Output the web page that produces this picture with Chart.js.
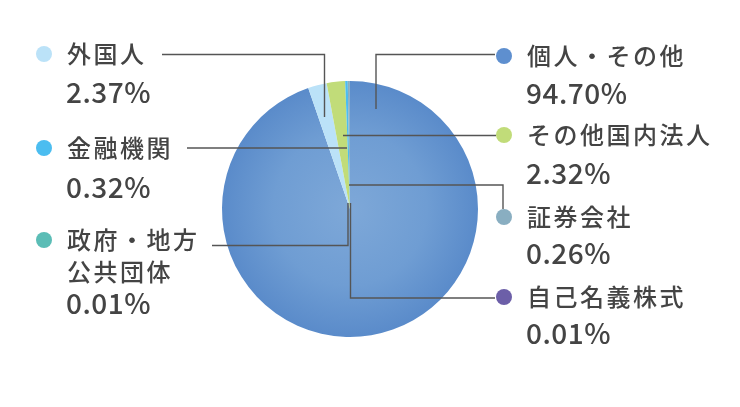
<!DOCTYPE html>
<html>
<head>
<meta charset="utf-8">
<script src="https://cdn.jsdelivr.net/npm/chart.js@4"></script>
<style>
  html, body { margin: 0; padding: 0; background: #fff; }
  #wrap { position: relative; width: 740px; height: 407px; }
</style>
</head>
<body>
<div id="wrap"><canvas id="shareChart" width="740" height="407"></canvas></div>
<script>
// 株主構成 (clockwise from 12 o'clock)
const categories = ['個人・その他', '外国人', 'その他国内法人', '金融機関', '証券会社', '政府・地方公共団体', '自己名義株式'];
const shares = [94.70, 2.37, 2.32, 0.32, 0.26, 0.01, 0.01];
const sliceColors = ['#5e8fcf', '#bbe2f8', '#c1dc79', '#4bbdf0', '#89aec1', '#5bbdb6', '#6c5fa8'];

// label layout: label lines (text), dot / text position
const labelLayout = [
    { i: 0, lines: ['個人・その他'], x: 504, y: 56, pctY: 93 },
    { i: 1, lines: ['外国人'], x: 44, y: 54, pctY: 92 },
    { i: 2, lines: ['その他国内法人'], x: 504, y: 135, pctY: 173 },
    { i: 3, lines: ['金融機関'], x: 44, y: 148, pctY: 187 },
    { i: 4, lines: ['証券会社'], x: 504, y: 217, pctY: 253 },
    { i: 5, lines: ['政府・地方', '公共団体'], x: 44, y: 240, pctY: 303 },
    { i: 6, lines: ['自己名義株式'], x: 504, y: 297, pctY: 333 }
];

// leader lines, as offsets from the pie centre
const leaders = [
    [[26, -100], [26, -154.5], [145, -154.5]],
    [[-25.5, -92], [-25.5, -154.5], [-188, -154.5]],
    [[-7, -73.5], [146, -73.5]],
    [[-3, -61], [-163, -61]],
    [[-1, -24], [153, -24], [153, 0]],
    [[-2, -6], [-2, 36.5], [-138, 36.5]],
    [[0.5, -6], [0.5, 89], [145, 89]]
];

const FONT = '"Noto Sans CJK JP", "Noto Sans", sans-serif';

const labelPlugin = {
    id: 'labelPlugin',
    afterDraw(chart) {
        const ctx = chart.ctx;
        const arc = chart.getDatasetMeta(0).data[0];
        const cx = arc.x, cy = arc.y;

        ctx.save();
        ctx.strokeStyle = '#555';
        ctx.lineWidth = 1.4;
        leaders.forEach(pts => {
            ctx.beginPath();
            pts.forEach((p, k) => {
                const px = cx + p[0], py = cy + p[1];
                if (k === 0) ctx.moveTo(px, py); else ctx.lineTo(px, py);
            });
            ctx.stroke();
        });

        ctx.textBaseline = 'middle';
        labelLayout.forEach(l => {
            ctx.fillStyle = sliceColors[l.i];
            ctx.beginPath();
            ctx.arc(l.x, l.y, 8, 0, Math.PI * 2);
            ctx.fill();

            ctx.fillStyle = '#444';
            ctx.font = '500 24px ' + FONT;
            ctx.letterSpacing = '2.5px';
            l.lines.forEach((t, k) => {
                ctx.fillText(t, l.x + 23, l.y + k * 32);
            });
            ctx.font = '500 28px ' + FONT;
            ctx.letterSpacing = '0.5px';
            ctx.fillText(shares[l.i].toFixed(2) + '%', l.x + 22, l.pctY);
        });
        ctx.restore();
    }
};

function bigSliceFill(context) {
    const chart = context.chart;
    const area = chart.chartArea;
    if (!area) return sliceColors[0];
    const x = (area.left + area.right) / 2;
    const y = (area.top + area.bottom) / 2;
    const r = Math.min(area.right - area.left, area.bottom - area.top) / 2;
    const g = chart.ctx.createRadialGradient(x, y, 0, x, y, r);
    g.addColorStop(0, '#7ea8d8');
    g.addColorStop(0.6, '#6f9dd3');
    g.addColorStop(1, '#5a8bca');
    return g;
}

const ctx = document.getElementById('shareChart').getContext('2d');
new Chart(ctx, {
    type: 'pie',
    data: {
        labels: categories,
        datasets: [{
            data: shares,
            backgroundColor: context => context.dataIndex === 0 ? bigSliceFill(context) : sliceColors[context.dataIndex],
            borderWidth: 0
        }]
    },
    options: {
        responsive: false,
        animation: false,
        layout: { padding: { top: 81, bottom: 70, left: 222, right: 262 } },
        plugins: { legend: { display: false }, tooltip: { enabled: false } }
    },
    plugins: [labelPlugin]
});
</script>
</body>
</html>
